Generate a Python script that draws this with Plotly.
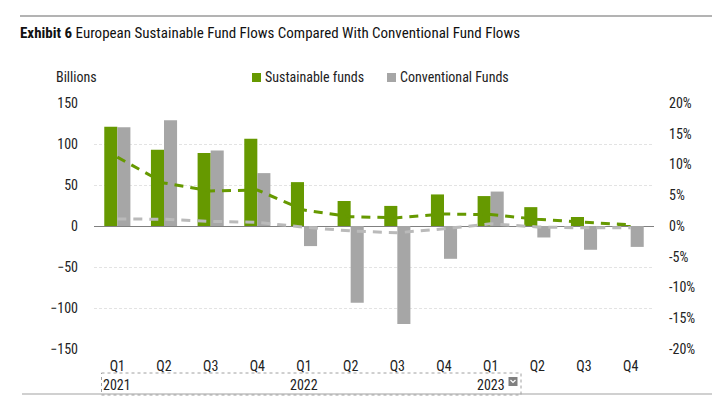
import plotly.graph_objects as go

quarters = ["Q1", "Q2", "Q3", "Q4", "Q1", "Q2", "Q3", "Q4", "Q1", "Q2", "Q3", "Q4"]
years = ["2021"] * 4 + ["2022"] * 4 + ["2023"] * 4
categories = [f"{y} {q}" for y, q in zip(years, quarters)]

sustainable_flows = [121, 93, 89, 106.5, 53.5, 30.5, 24.5, 38.5, 36.5, 23, 11, 1]
conventional_flows = [120.5, 129, 92, 64.5, -24.5, -93.5, -119.5, -40, 42, -14, -29, -25.5]
sustainable_pct = [11.2, 7.0, 5.7, 5.85, 2.6, 1.5, 1.35, 1.95, 1.85, 1.1, 0.6, 0.2]
conventional_pct = [1.15, 1.1, 0.75, 0.6, -0.2, -0.8, -1.1, -0.45, 0.35, -0.15, -0.3, -0.3]

year_labels = ["2021", "2022", "2023"]
year_positions = ["2021 Q1", "2022 Q1", "2023 Q1"]

left_ticks = [-150, -100, -50, 0, 50, 100, 150]
right_ticks = [-20, -15, -10, -5, 0, 5, 10, 15, 20]
right_labels = [f"{v}%" for v in right_ticks]

series_names = ["Sustainable funds", "Conventional Funds"]

GREEN = "#669900"
GRAY_BAR = "#a6a6a6"
GRAY_LINE = "#bababa"
FONT = "Roboto Condensed, Roboto, sans-serif"
TXT = "#222222"
FS = 14


def px_x(p):
    return (p - 94) / 560


def px_y(p):
    return (349 - p) / 246


fig = go.Figure()
fig.add_trace(go.Bar(x=categories, y=sustainable_flows, name=series_names[0],
                     marker=dict(color=GREEN, line=dict(width=0)), showlegend=False))
fig.add_trace(go.Bar(x=categories, y=conventional_flows, name=series_names[1],
                     marker=dict(color=GRAY_BAR, line=dict(width=0)), showlegend=False))
fig.add_trace(go.Scatter(x=categories, y=sustainable_pct, yaxis="y2", mode="lines",
                         line=dict(color=GREEN, width=3, dash="9px,7px"), showlegend=False))
fig.add_trace(go.Scatter(x=categories, y=conventional_pct, yaxis="y2", mode="lines",
                         line=dict(color=GRAY_LINE, width=3, dash="9px,7px"), showlegend=False))

for lab, pos in zip(year_labels, year_positions):
    fig.add_annotation(x=pos, y=px_y(384.5), xref="x", yref="paper", text=lab, showarrow=False,
                       xanchor="center", yanchor="middle", font=dict(size=FS, color=TXT, family=FONT))

fig.add_annotation(x=px_x(76), y=px_y(77), xref="paper", yref="paper", text="Billions",
                   showarrow=False, xanchor="center", yanchor="middle",
                   font=dict(size=FS, color=TXT, family=FONT))

# manual legend
legend_items = [(series_names[0], GREEN, 252), (series_names[1], GRAY_BAR, 387)]
shapes = []
for name, col, lx in legend_items:
    shapes.append(dict(type="rect", xref="paper", yref="paper", x0=px_x(lx), x1=px_x(lx + 9),
                       y0=px_y(82), y1=px_y(73), fillcolor=col, line=dict(width=0)))
    fig.add_annotation(x=px_x(lx + 11), y=px_y(77), xref="paper", yref="paper", text=name,
                       showarrow=False, xanchor="left", yanchor="middle",
                       font=dict(size=FS, color=TXT, family=FONT))

shapes += [
    dict(type="line", xref="paper", yref="paper", x0=px_x(20), x1=px_x(712), y0=px_y(16), y1=px_y(16),
         line=dict(color="#b3b3b3", width=2)),
    dict(type="line", xref="paper", yref="paper", x0=px_x(22), x1=px_x(712), y0=px_y(394), y1=px_y(394),
         line=dict(color="#d0d0d0", width=2)),
    dict(type="rect", xref="paper", yref="paper", x0=px_x(101.5), x1=px_x(521), y0=px_y(373), y1=px_y(395),
         line=dict(color="#a0a0a0", width=1, dash="dot")),
    dict(type="rect", xref="paper", yref="paper", x0=px_x(508.5), x1=px_x(517.5), y0=px_y(377), y1=px_y(386),
         fillcolor="#808080", line=dict(width=0)),
    dict(type="path", xref="paper", yref="paper",
         path=f"M{px_x(510.5)},{px_y(380)} L{px_x(513)},{px_y(382.5)} L{px_x(515.5)},{px_y(380)}",
         line=dict(color="white", width=1.2)),
]

fig.update_layout(
    width=712, height=396,
    margin=dict(l=94, r=58, t=103, b=47, autoexpand=False),
    paper_bgcolor="white", plot_bgcolor="white",
    barmode="group", bargap=0.44, bargroupgap=0,
    font=dict(family=FONT, size=FS, color=TXT),
    showlegend=False,
    title=dict(text="<b>Exhibit 6</b> European Sustainable Fund Flows Compared With Conventional Fund Flows",
               x=20 / 712, xanchor="left", xref="container", y=1 - 33 / 396, yanchor="middle",
               yref="container", font=dict(size=15, color="#111111", family=FONT)),
    xaxis=dict(type="category", categoryorder="array", categoryarray=categories,
               tickvals=categories, ticktext=quarters, showgrid=False, showline=False,
               ticks="", tickfont=dict(size=FS, color=TXT), ticklabelstandoff=7),
    yaxis=dict(range=[-150, 150], tickvals=left_ticks, showgrid=True, gridcolor="#e3e3e3",
               griddash="3px,2px", gridwidth=1, zeroline=True, zerolinecolor="#808080",
               zerolinewidth=1, showline=False, ticks="", ticklabelstandoff=15,
               tickfont=dict(size=FS, color=TXT)),
    yaxis2=dict(range=[-20, 20], tickvals=right_ticks, ticktext=right_labels, overlaying="y", side="right",
                showgrid=False, zeroline=False, showline=False, ticks="", ticklabelstandoff=14,
                tickfont=dict(size=FS, color=TXT)),
    shapes=shapes,
)

fig.write_html("out.html", config=dict(displayModeBar=False),
               post_script="document.body.style.margin='0';")
